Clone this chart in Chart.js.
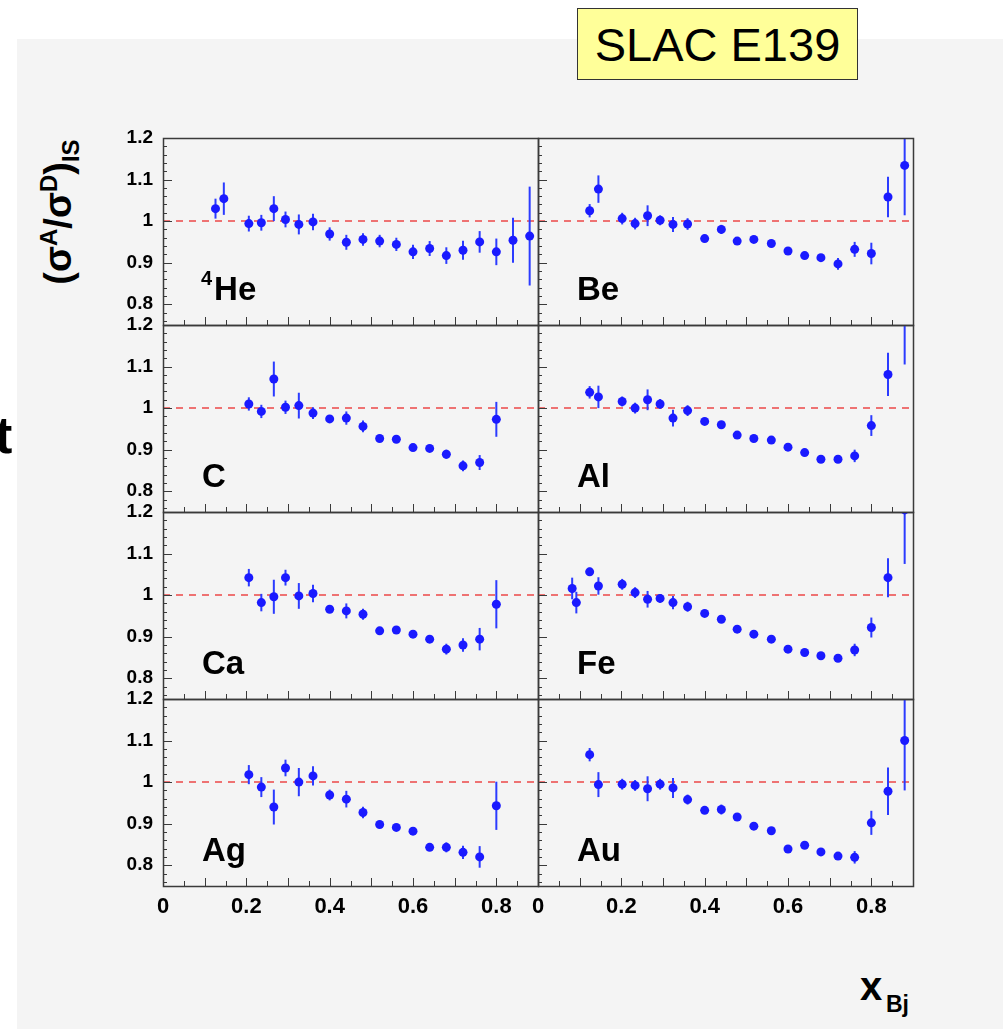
<!DOCTYPE html>
<html><head><meta charset="utf-8">
<script src="https://cdn.jsdelivr.net/npm/chart.js@4.4.1/dist/chart.umd.min.js"></script>
<style>
html,body{margin:0;padding:0;background:#fff;width:1003px;height:1029px;overflow:hidden;font-family:"Liberation Sans",Arial,Helvetica,sans-serif;position:relative;}
#bg{position:absolute;left:17px;top:39px;right:0;bottom:0;background:#f4f4f4;}
canvas{position:absolute;}
#slac{position:absolute;left:577px;top:8px;width:279px;height:70px;background:#ffff99;border:1px solid #333;font-size:47px;line-height:72px;text-align:center;color:#000;}
#ytitle{position:absolute;left:60px;top:212px;transform:translate(-50%,-50%) rotate(-90deg);font-weight:bold;font-size:38px;white-space:nowrap;color:#000;line-height:44px;}
#ytitle sup,#ytitle sub{font-size:24px;}
#xt1{position:absolute;left:860px;top:966px;font-weight:bold;font-size:40px;line-height:40px;color:#000;}
#xt2{position:absolute;left:886px;top:993px;font-weight:bold;font-size:23px;line-height:23px;color:#000;}
#tcut{position:absolute;left:-5px;top:409px;font-weight:bold;font-size:52px;line-height:52px;color:#000;}
</style></head>
<body>
<div id="bg"></div>
<div id="slac">SLAC E139</div>
<div id="ytitle">(σ<sup>A</sup>/σ<sup>D</sup>)<sub>IS</sub></div>
<div id="xt1">x</div><div id="xt2">Bj</div>
<div id="tcut">t</div>
<script>
// ---- tick labels ----
const xTickVals = [0, 0.2, 0.4, 0.6, 0.8];
const xTickLabels = ['0', '0.2', '0.4', '0.6', '0.8'];
const yTickVals = [0.8, 0.9, 1.0, 1.1, 1.2];
const yTickLabels = ['0.8', '0.9', '1', '1.1', '1.2'];
const refValue = 1.0;

// ---- panel names ----
const panelNames = ['He', 'Be', 'C', 'Al', 'Ca', 'Fe', 'Ag', 'Au'];
const panelSups = ['4', '', '', '', '', '', '', ''];

// ---- data ----
const heX = [0.126,0.146,0.206,0.236,0.266,0.294,0.326,0.36,0.40,0.44,0.48,0.52,0.56,0.60,0.64,0.68,0.72,0.76,0.80,0.84,0.88];
const heY = [1.030,1.054,0.994,0.996,1.030,1.004,0.992,0.998,0.969,0.949,0.956,0.952,0.944,0.926,0.934,0.917,0.930,0.950,0.926,0.954,0.964];
const heErr = [0.024,0.039,0.019,0.019,0.030,0.019,0.024,0.020,0.016,0.018,0.015,0.015,0.016,0.017,0.018,0.020,0.023,0.026,0.032,0.054,0.119];

const beX = [0.124,0.145,0.202,0.233,0.263,0.293,0.324,0.359,0.40,0.44,0.478,0.518,0.56,0.60,0.64,0.679,0.72,0.76,0.80,0.84,0.88];
const beY = [1.025,1.077,1.006,0.994,1.013,1.002,0.992,0.993,0.958,0.980,0.952,0.956,0.946,0.928,0.917,0.912,0.897,0.932,0.922,1.058,1.134];
const beErr = [0.016,0.033,0.014,0.014,0.025,0.012,0.018,0.014,0.005,0.011,0.006,0.006,0.007,0.007,0.007,0.008,0.014,0.018,0.026,0.049,0.12];

const cX = [0.206,0.236,0.266,0.294,0.326,0.36,0.40,0.44,0.48,0.52,0.56,0.60,0.64,0.68,0.72,0.76,0.80];
const cY = [1.010,0.992,1.070,1.002,1.006,0.988,0.974,0.976,0.956,0.927,0.925,0.905,0.903,0.889,0.861,0.869,0.973];
const cErr = [0.016,0.016,0.042,0.016,0.031,0.014,0.007,0.016,0.014,0.008,0.008,0.007,0.007,0.011,0.013,0.018,0.042];

const alX = [0.124,0.145,0.202,0.233,0.263,0.293,0.324,0.359,0.40,0.44,0.478,0.518,0.56,0.60,0.64,0.679,0.72,0.76,0.80,0.84,0.88];
const alY = [1.038,1.027,1.016,1.000,1.020,1.010,0.976,0.994,0.968,0.960,0.935,0.927,0.923,0.906,0.893,0.877,0.877,0.885,0.958,1.081,1.225];
const alErr = [0.015,0.027,0.012,0.013,0.025,0.012,0.020,0.013,0.007,0.008,0.008,0.008,0.008,0.007,0.007,0.007,0.007,0.015,0.025,0.052,0.12];

const caX = [0.206,0.236,0.266,0.294,0.326,0.36,0.40,0.44,0.48,0.52,0.56,0.60,0.64,0.68,0.72,0.76,0.80];
const caY = [1.042,0.982,0.996,1.042,0.998,1.004,0.966,0.962,0.954,0.914,0.916,0.906,0.894,0.870,0.880,0.894,0.978];
const caErr = [0.021,0.021,0.041,0.019,0.031,0.021,0.008,0.018,0.013,0.008,0.008,0.007,0.008,0.013,0.016,0.027,0.058];

const feX = [0.082,0.092,0.124,0.145,0.202,0.233,0.263,0.293,0.324,0.359,0.40,0.44,0.478,0.518,0.56,0.60,0.64,0.679,0.72,0.76,0.80,0.84,0.88];
const feY = [1.016,0.982,1.056,1.022,1.026,1.006,0.990,0.992,0.982,0.972,0.956,0.942,0.918,0.906,0.894,0.870,0.862,0.854,0.848,0.868,0.922,1.042,1.205];
const feErr = [0.026,0.026,0.010,0.021,0.013,0.013,0.020,0.010,0.016,0.012,0.006,0.007,0.006,0.006,0.006,0.006,0.006,0.006,0.007,0.015,0.024,0.047,0.13];

const agX = [0.206,0.236,0.266,0.294,0.326,0.36,0.40,0.44,0.48,0.52,0.56,0.60,0.64,0.68,0.72,0.76,0.80];
const agY = [1.018,0.988,0.940,1.034,1.000,1.015,0.969,0.959,0.927,0.898,0.891,0.882,0.843,0.843,0.831,0.820,0.943];
const agErr = [0.023,0.024,0.042,0.020,0.034,0.023,0.013,0.020,0.014,0.008,0.008,0.007,0.007,0.012,0.016,0.026,0.058];

const auX = [0.124,0.145,0.202,0.233,0.263,0.293,0.324,0.359,0.40,0.44,0.478,0.518,0.56,0.60,0.64,0.679,0.72,0.76,0.80,0.84,0.88];
const auY = [1.066,0.994,0.995,0.992,0.984,0.995,0.986,0.958,0.932,0.934,0.916,0.894,0.883,0.839,0.848,0.832,0.822,0.819,0.902,0.978,1.100];
const auErr = [0.016,0.030,0.013,0.013,0.030,0.013,0.024,0.012,0.007,0.012,0.007,0.008,0.008,0.007,0.007,0.007,0.008,0.015,0.029,0.057,0.12];

const panelData = [
  [heX, heY, heErr], [beX, beY, beErr],
  [cX, cY, cErr], [alX, alY, alErr],
  [caX, caY, caErr], [feX, feY, feErr],
  [agX, agY, agErr], [auX, auY, auErr]
];

// ---- layout ----
const FONT = '"Liberation Sans", Arial, Helvetica, sans-serif';
Chart.defaults.font.family = FONT;
const colLeft = [163, 538];
const rowTop = [138, 325, 512, 699];
const PW = 375, PH = 187;
const ML = 70, MR = 10, MT = 14, MB = 45;

function makePanelPlugin(idx) {
  const [xs, ys, es] = panelData[idx];
  return {
    id: 'rootPanel' + idx,
    beforeDatasetsDraw(chart) {
      const {ctx, chartArea: a, scales: {x, y}} = chart;
      ctx.save();
      ctx.beginPath();
      ctx.rect(a.left, a.top, a.right - a.left, a.bottom - a.top);
      ctx.clip();
      const py = y.getPixelForValue(refValue);
      ctx.strokeStyle = '#ee7272';
      ctx.lineWidth = 2;
      ctx.setLineDash([7, 6]);
      ctx.beginPath(); ctx.moveTo(a.left, py); ctx.lineTo(a.right, py); ctx.stroke();
      ctx.setLineDash([]);
      ctx.strokeStyle = '#2b3bff';
      ctx.lineWidth = 2;
      xs.forEach((xv, i) => {
        const px = x.getPixelForValue(xv);
        ctx.beginPath();
        ctx.moveTo(px, y.getPixelForValue(ys[i] - es[i]));
        ctx.lineTo(px, y.getPixelForValue(ys[i] + es[i]));
        ctx.stroke();
      });
      ctx.restore();
    },
    afterDraw(chart) {
      const {ctx, chartArea: a, scales: {x, y}} = chart;
      ctx.save();
      ctx.strokeStyle = '#3a3a3a';
      ctx.lineWidth = 1;
      ctx.beginPath();
      for (let k = 0; k <= 18; k++) {
        const px = Math.round(x.getPixelForValue(k * 0.05)) + 0.5;
        const len = (k % 2 === 0) ? 8 : 5;
        ctx.moveTo(px, a.bottom); ctx.lineTo(px, a.bottom - len);
      }
      for (let k = 38; k <= 60; k++) {
        const v = k * 0.02;
        const py = Math.round(y.getPixelForValue(v)) + 0.5;
        const len = (k % 5 === 0) ? 9 : 4;
        ctx.moveTo(a.left, py); ctx.lineTo(a.left + len, py);
      }
      ctx.stroke();
      ctx.lineWidth = 1.5;
      ctx.strokeRect(a.left + 0.5, a.top + 0.5, a.right - a.left, a.bottom - a.top);
      // label
      ctx.fillStyle = '#000';
      ctx.textBaseline = 'alphabetic';
      let lx = a.left + 39;
      const ly = a.top + 162;
      if (panelSups[idx]) {
        ctx.font = 'bold 20px ' + FONT;
        ctx.fillText(panelSups[idx], lx - 1, ly - 15);
        lx += ctx.measureText(panelSups[idx]).width + 1;
      }
      ctx.font = 'bold 33px ' + FONT;
      ctx.fillText(panelNames[idx], lx, ly);
      ctx.restore();
    }
  };
}

panelData.forEach((pd, idx) => {
  const r = Math.floor(idx / 2), c = idx % 2;
  const cv = document.createElement('canvas');
  const W = ML + PW + MR, H = MT + PH + MB;
  cv.width = W; cv.height = H;
  cv.style.width = W + 'px'; cv.style.height = H + 'px';
  cv.style.left = (colLeft[c] - ML) + 'px';
  cv.style.top = (rowTop[r] - MT) + 'px';
  document.body.appendChild(cv);
  const [xs, ys] = pd;
  new Chart(cv, {
    type: 'scatter',
    data: {
      datasets: [{
        data: xs.map((v, i) => ({x: v, y: ys[i]})),
        pointRadius: 4.5,
        pointBackgroundColor: '#1a1aff',
        pointBorderWidth: 0,
        showLine: false
      }]
    },
    options: {
      responsive: false,
      animation: false,
      devicePixelRatio: 1,
      layout: {padding: {top: MT, right: MR, left: 0, bottom: 0}},
      plugins: {legend: {display: false}, tooltip: {enabled: false}},
      scales: {
        x: {
          type: 'linear', min: 0, max: 0.9,
          afterBuildTicks: s => { s.ticks = xTickVals.map(v => ({value: v})); },
          afterFit: s => { s.height = MB; s.paddingLeft = 0; s.paddingRight = 0; },
          grid: {display: false, drawTicks: false},
          border: {display: false},
          ticks: {
            display: r === 3,
            padding: 8,
            color: '#000',
            font: {size: 22, weight: 'bold'},
            maxRotation: 0,
            autoSkip: false,
            callback: (v, i) => xTickLabels[i]
          }
        },
        y: {
          type: 'linear', min: 0.75, max: 1.2,
          afterBuildTicks: s => { s.ticks = yTickVals.map(v => ({value: v})); },
          afterFit: s => { s.width = ML; s.paddingTop = 0; s.paddingBottom = 0; },
          grid: {display: false, drawTicks: false},
          border: {display: false},
          ticks: {
            display: c === 0,
            padding: 10,
            color: '#000',
            font: {size: 19, weight: 'bold'},
            autoSkip: false,
            callback: (v, i) => yTickLabels[i]
          }
        }
      }
    },
    plugins: [makePanelPlugin(idx)]
  });
});
</script>
</body></html>
